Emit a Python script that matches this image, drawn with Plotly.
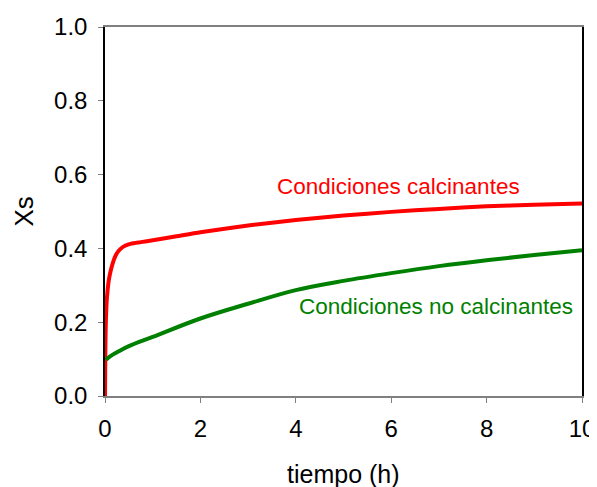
import plotly.graph_objects as go

# curve: calcining conditions
t_calc = [0, 0.005, 0.01, 0.02, 0.04, 0.07, 0.1, 0.13, 0.18, 0.24, 0.32, 0.42, 0.55,
          0.75, 1, 1.5, 2, 3, 4, 5, 6, 7, 8, 9, 10]
xs_calc = [0, 0.09, 0.15, 0.21, 0.265, 0.305, 0.328, 0.345, 0.367, 0.385, 0.398, 0.407,
           0.413, 0.417, 0.422, 0.433, 0.444, 0.462, 0.477, 0.489, 0.499, 0.507, 0.514,
           0.518, 0.522]

# curve: non-calcining conditions
t_nocalc = [0.02, 0.1, 0.3, 0.5, 1, 2, 3, 4, 5, 6, 7, 8, 9, 10]
xs_nocalc = [0.098, 0.107, 0.122, 0.135, 0.16, 0.21, 0.25, 0.287, 0.312, 0.333,
             0.352, 0.368, 0.382, 0.395]

fig = go.Figure()

fig.add_scatter(x=t_calc, y=xs_calc, mode="lines",
                line=dict(color="#ff0000", width=4, shape="spline", smoothing=0.6),
                showlegend=False)
fig.add_scatter(x=t_nocalc, y=xs_nocalc, mode="lines",
                line=dict(color="#008000", width=4, shape="spline"),
                showlegend=False)

fig.add_annotation(x=6.15, y=0.568, text="Condiciones calcinantes", showarrow=False,
                   xanchor="center", yanchor="middle",
                   font=dict(color="#ff0000", size=22.5))
fig.add_annotation(x=6.94, y=0.243, text="Condiciones no calcinantes", showarrow=False,
                   xanchor="center", yanchor="middle",
                   font=dict(color="#008000", size=22.5))

# axis titles as annotations so they can be placed exactly
fig.add_annotation(x=0.5, y=0, xref="paper", yref="paper", yshift=-78,
                   text="tiempo (h)", showarrow=False,
                   xanchor="center", yanchor="middle", font=dict(size=25))
fig.add_annotation(x=0, y=0.5, xref="paper", yref="paper", xshift=-82,
                   text="Xs", showarrow=False, textangle=-90, borderpad=0,
                   xanchor="center", yanchor="middle", font=dict(size=26))

# the page body has an 8px margin, so the figure is shifted by 8px
fig.update_layout(
    width=589,
    height=479,
    margin=dict(l=97, r=15, t=19, b=91),
    plot_bgcolor="white",
    paper_bgcolor="white",
    font=dict(family="Liberation Sans, Arial", size=24, color="black"),
)

fig.update_xaxes(
    range=[0, 10], tickvals=[0, 2, 4, 6, 8, 10],
    showgrid=False, zeroline=False, automargin=False,
    showline=True, linecolor="#808080", linewidth=2, mirror=True,
    ticks="outside", ticklen=5, tickcolor="#808080", ticklabelstandoff=5,
)
fig.update_yaxes(
    range=[0, 1.0], tickvals=[0, 0.2, 0.4, 0.6, 0.8, 1.0], tickformat=".1f",
    showgrid=False, zeroline=False, automargin=False,
    showline=True, linecolor="black", linewidth=1.5, mirror=True,
    ticks="outside", ticklen=5, tickcolor="#808080", ticklabelstandoff=6,
)

fig.write_html("out.html")
